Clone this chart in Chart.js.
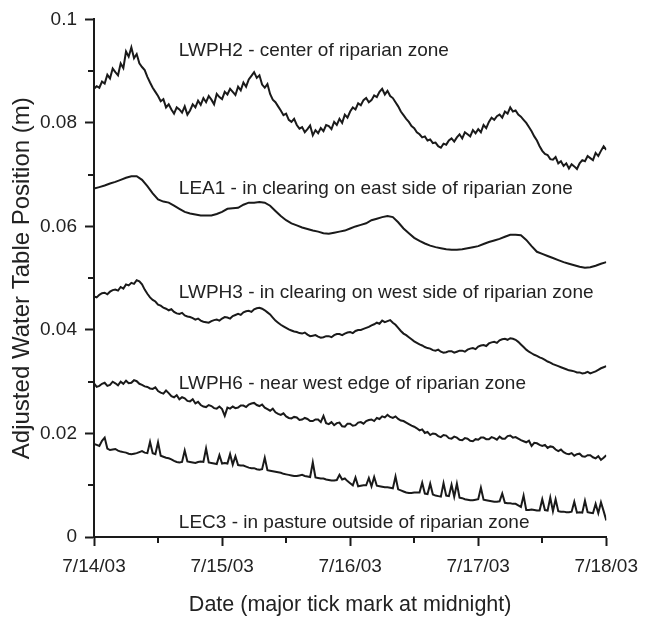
<!DOCTYPE html>
<html>
<head>
<meta charset="utf-8">
<script src="https://cdn.jsdelivr.net/npm/chart.js@4.4.1/dist/chart.umd.min.js"></script>
<style>
html,body{margin:0;padding:0;background:#fff;}
#wrap{width:647px;height:619px;position:relative;}
</style>
</head>
<body>
<div id="wrap"><canvas id="c"></canvas></div>
<script>
// Tick labels and series names
const dateLabels = ['7/14/03','7/15/03','7/16/03','7/17/03','7/18/03'];
const yTickLabels = ['0','0.02','0.04','0.06','0.08','0.1'];
const seriesNames = ['LWPH2','LEA1','LWPH3','LWPH6','LEC3'];
const seriesLabels = [
  'LWPH2 - center of riparian zone',
  'LEA1 - in clearing on east side of riparian zone',
  'LWPH3 - in clearing on west side of riparian zone',
  'LWPH6 - near west edge of riparian zone',
  'LEC3 - in pasture outside of riparian zone'
];

// Half-hourly readings (hours 0..96, step 0.5), metres
const lwph2 = [.0866,.0871,.0868,.0880,.0876,.0893,.0886,.0905,.0898,.0892,.0915,.0906,.0938,.0928,.0946,.0925,.0933,.0915,.0908,.0902,.0889,.0878,.0868,.0860,.0852,.0842,.0846,.0830,.0836,.0826,.0818,.0830,.0826,.0820,.0832,.0816,.0824,.0836,.0830,.0843,.0835,.0848,.0840,.0852,.0845,.0836,.0856,.0850,.0846,.0860,.0855,.0866,.0860,.0854,.0870,.0863,.0878,.0870,.0884,.0891,.0898,.0887,.0892,.0874,.0868,.0875,.0856,.0845,.0840,.0832,.0824,.0815,.0818,.0806,.0802,.0808,.0796,.0789,.0792,.0782,.0788,.0795,.0776,.0786,.0780,.0790,.0784,.0796,.0794,.0788,.0802,.0796,.0808,.0800,.0816,.0810,.0822,.0830,.0826,.0838,.0834,.0844,.0848,.0840,.0844,.0853,.0850,.0860,.0866,.0855,.0862,.0852,.0848,.0840,.0832,.0822,.0815,.0808,.0802,.0794,.0790,.0782,.0778,.0772,.0774,.0766,.0768,.0761,.0762,.0755,.0752,.0760,.0758,.0766,.0770,.0764,.0772,.0778,.0770,.0782,.0778,.0774,.0786,.0780,.0788,.0782,.0796,.0790,.0802,.0810,.0806,.0813,.0816,.0810,.0822,.0818,.0830,.0822,.0824,.0816,.0812,.0806,.0800,.0792,.0784,.0774,.0766,.0755,.0746,.0740,.0738,.0730,.0729,.0734,.0722,.0726,.0717,.0722,.0712,.0720,.0716,.0711,.0722,.0728,.0726,.0736,.0732,.0728,.0742,.0736,.0746,.0755,.0748];
const lwph3 = [.0465,.0463,.0468,.0471,.0472,.0469,.0474,.0477,.0478,.0476,.0483,.0480,.0488,.0486,.0491,.0489,.0496,.0494,.0488,.0478,.0470,.0463,.0458,.0455,.0449,.0447,.0443,.0441,.0438,.0440,.0435,.0432,.0431,.0433,.0428,.0426,.0425,.0423,.0420,.0422,.0418,.0416,.0415,.0414,.0417,.0419,.0420,.0418,.0422,.0425,.0424,.0422,.0427,.0429,.0431,.0429,.0434,.0436,.0437,.0435,.0440,.0442,.0443,.0441,.0438,.0434,.0430,.0424,.0418,.0414,.0410,.0407,.0404,.0401,.0399,.0397,.0396,.0394,.0393,.0395,.0391,.0388,.0389,.0390,.0387,.0385,.0386,.0388,.0388,.0386,.0390,.0392,.0392,.0390,.0393,.0395,.0396,.0394,.0398,.0400,.0400,.0402,.0404,.0406,.0409,.0411,.0414,.0412,.0418,.0415,.0417,.0419,.0414,.0410,.0404,.0398,.0393,.0390,.0386,.0382,.0378,.0375,.0372,.0370,.0367,.0365,.0364,.0361,.0360,.0362,.0358,.0356,.0357,.0359,.0359,.0356,.0358,.0360,.0360,.0358,.0362,.0364,.0365,.0363,.0368,.0370,.0371,.0369,.0374,.0376,.0377,.0375,.0380,.0382,.0383,.0381,.0384,.0383,.0381,.0377,.0372,.0367,.0362,.0358,.0355,.0352,.0350,.0347,.0345,.0342,.0339,.0337,.0334,.0332,.0330,.0328,.0326,.0324,.0322,.0321,.0320,.0318,.0318,.0316,.0317,.0319,.0316,.0318,.0320,.0323,.0326,.0328,.0330];
const lwph6 = [.0297,.0290,.0292,.0296,.0298,.0292,.0294,.0300,.0297,.0293,.0300,.0296,.0302,.0297,.0298,.0303,.0301,.0296,.0294,.0291,.0290,.0287,.0286,.0289,.0282,.0279,.0277,.0283,.0278,.0272,.0270,.0274,.0266,.0270,.0268,.0263,.0262,.0266,.0258,.0261,.0255,.0252,.0251,.0255,.0253,.0249,.0248,.0252,.0247,.0234,.0250,.0248,.0252,.0249,.0250,.0254,.0254,.0251,.0256,.0258,.0259,.0255,.0253,.0256,.0250,.0247,.0244,.0248,.0241,.0238,.0236,.0239,.0233,.0230,.0229,.0232,.0231,.0226,.0227,.0230,.0228,.0224,.0224,.0227,.0227,.0222,.0234,.0220,.0218,.0222,.0216,.0220,.0221,.0214,.0213,.0219,.0219,.0215,.0216,.0221,.0222,.0219,.0224,.0226,.0227,.0224,.0230,.0228,.0233,.0231,.0236,.0232,.0230,.0233,.0228,.0225,.0224,.0221,.0218,.0215,.0213,.0210,.0206,.0208,.0201,.0203,.0197,.0200,.0199,.0195,.0193,.0197,.0196,.0191,.0190,.0194,.0192,.0188,.0187,.0191,.0190,.0186,.0185,.0189,.0188,.0192,.0192,.0189,.0189,.0193,.0191,.0188,.0194,.0190,.0190,.0195,.0196,.0192,.0193,.0190,.0187,.0185,.0183,.0186,.0176,.0182,.0181,.0178,.0176,.0178,.0172,.0175,.0174,.0169,.0166,.0169,.0164,.0161,.0160,.0162,.0157,.0160,.0161,.0156,.0155,.0158,.0158,.0154,.0152,.0156,.0149,.0153,.0158];
const lec3 = [.0180,.0178,.0176,.0186,.0192,.0171,.0168,.0169,.0170,.0167,.0165,.0164,.0163,.0161,.0160,.0161,.0162,.0164,.0166,.0163,.0162,.0184,.0162,.0160,.0183,.0157,.0155,.0153,.0152,.0150,.0147,.0145,.0144,.0145,.0167,.0146,.0145,.0144,.0143,.0145,.0146,.0145,.0171,.0144,.0143,.0142,.0141,.0158,.0142,.0143,.0142,.0160,.0140,.0156,.0139,.0138,.0138,.0136,.0134,.0133,.0133,.0131,.0130,.0131,.0153,.0129,.0128,.0127,.0126,.0125,.0124,.0122,.0121,.0120,.0119,.0118,.0118,.0119,.0120,.0118,.0117,.0116,.0144,.0115,.0114,.0113,.0113,.0111,.0110,.0109,.0109,.0110,.0120,.0111,.0113,.0108,.0104,.0100,.0115,.0098,.0099,.0100,.0100,.0114,.0098,.0116,.0099,.0098,.0097,.0096,.0096,.0095,.0094,.0117,.0092,.0090,.0088,.0086,.0085,.0085,.0086,.0086,.0086,.0105,.0084,.0083,.0103,.0082,.0080,.0079,.0078,.0104,.0080,.0079,.0101,.0078,.0103,.0076,.0075,.0073,.0072,.0071,.0071,.0072,.0073,.0095,.0072,.0071,.0070,.0069,.0068,.0068,.0069,.0084,.0066,.0065,.0065,.0064,.0064,.0061,.0058,.0080,.0052,.0052,.0053,.0052,.0051,.0051,.0073,.0052,.0051,.0076,.0050,.0073,.0050,.0049,.0049,.0048,.0048,.0049,.0068,.0047,.0048,.0047,.0070,.0048,.0047,.0046,.0064,.0046,.0067,.0050,.0032];
// Hourly readings (hours 0..96), metres
const lea1 = [.0673,.0676,.0679,.0683,.0686,.0690,.0694,.0697,.0697,.0690,.0678,.0664,.0652,.0648,.0646,.0640,.0634,.0628,.0625,.0623,.0621,.0621,.0621,.0624,.0628,.0634,.0635,.0636,.0642,.0646,.0646,.0647,.0646,.0640,.0630,.0620,.0612,.0606,.0602,.0598,.0595,.0592,.0590,.0587,.0586,.0588,.0590,.0592,.0596,.0600,.0603,.0606,.0612,.0615,.0618,.0620,.0618,.0608,.0596,.0587,.0578,.0572,.0567,.0563,.0560,.0558,.0556,.0555,.0555,.0556,.0558,.0560,.0562,.0566,.0570,.0573,.0576,.0580,.0584,.0584,.0583,.0574,.0562,.0551,.0547,.0543,.0539,.0535,.0531,.0528,.0525,.0522,.0520,.0521,.0524,.0528,.0531];

const seriesValues = [lwph2, lea1, lwph3, lwph6, lec3];
const seriesStepHours = [0.5, 1, 0.5, 0.5, 0.5];

// label anchor positions (data coordinates)
const labelHour = 15.9;
const labelLevels = [0.0939, 0.0673, 0.0472, 0.0297, 0.0028];

const FONT = '"Liberation Sans", Arial, Helvetica, sans-serif';
const INK = '#1a1a1a';
const TEXT = '#222';

const datasets = seriesValues.map((vals, k) => ({
  label: seriesNames[k],
  data: vals.map((v, i) => ({x: i * seriesStepHours[k], y: v})),
  borderColor: INK,
  borderWidth: 2,
  pointRadius: 0,
  fill: false,
  tension: 0
}));

const minorTicks = {
  id: 'minorTicks',
  afterDraw(chart) {
    const {ctx, scales: {x, y}} = chart;
    ctx.save();
    ctx.strokeStyle = INK;
    ctx.lineWidth = 2;
    x.ticks.forEach(t => {
      if (t.value % 24 !== 0) {
        const px = Math.round(x.getPixelForValue(t.value));
        ctx.beginPath(); ctx.moveTo(px, x.top); ctx.lineTo(px, x.top + 6); ctx.stroke();
      }
    });
    y.ticks.forEach((t, i) => {
      if (i % 2 === 1) {
        const py = Math.round(y.getPixelForValue(t.value));
        ctx.beginPath(); ctx.moveTo(y.right - 6, py); ctx.lineTo(y.right, py); ctx.stroke();
      }
    });
    ctx.restore();
  }
};

const seriesText = {
  id: 'seriesText',
  afterDatasetsDraw(chart) {
    const {ctx, scales: {x, y}} = chart;
    ctx.save();
    ctx.fillStyle = TEXT;
    ctx.font = '19px ' + FONT;
    ctx.textAlign = 'left';
    ctx.textBaseline = 'middle';
    seriesLabels.forEach((s, k) => {
      ctx.fillText(s, x.getPixelForValue(labelHour), y.getPixelForValue(labelLevels[k]));
    });
    ctx.restore();
  }
};

new Chart(document.getElementById('c'), {
  type: 'line',
  data: {datasets},
  options: {
    responsive: true,
    maintainAspectRatio: false,
    animation: false,
    events: [],
    layout: {padding: {left: 0, right: 33, top: 18, bottom: 0}},
    plugins: {legend: {display: false}, tooltip: {enabled: false}},
    scales: {
      x: {
        type: 'linear', min: 0, max: 96,
        afterBuildTicks: s => { s.ticks = [0,12,24,36,48,60,72,84,96].map(v => ({value: v})); },
        afterFit: s => { s.height = 82; },
        ticks: {
          callback: v => (v % 24 === 0 ? dateLabels[v / 24] : ''),
          font: {family: FONT, size: 19}, color: TEXT, padding: 9,
          maxRotation: 0, autoSkip: false
        },
        grid: {
          display: true, drawOnChartArea: false, drawTicks: true, tickLength: 9, tickWidth: 2,
          tickColor: c => (c.tick && c.tick.value % 24 === 0 ? INK : 'rgba(0,0,0,0)')
        },
        border: {display: true, color: INK, width: 2},
        title: {display: true, text: 'Date (major tick mark at midnight)', font: {family: FONT, size: 21.5}, color: TEXT, padding: {top: 0, bottom: 1}}
      },
      y: {
        type: 'linear', min: 0, max: 0.1,
        afterBuildTicks: s => { s.ticks = [0,0.01,0.02,0.03,0.04,0.05,0.06,0.07,0.08,0.09,0.1].map(v => ({value: v})); },
        afterFit: s => { s.width = 94; },
        ticks: {
          callback: (v, i) => (i % 2 === 0 ? yTickLabels[i / 2] : ''),
          font: {family: FONT, size: 19}, color: TEXT, padding: 8, autoSkip: false
        },
        grid: {
          display: true, drawOnChartArea: false, drawTicks: true, tickLength: 9, tickWidth: 2,
          tickColor: c => (c.index % 2 === 0 ? INK : 'rgba(0,0,0,0)')
        },
        border: {display: true, color: INK, width: 2},
        title: {display: true, text: 'Adjusted Water Table Position (m)', font: {family: FONT, size: 24}, color: TEXT, padding: {top: 8, bottom: 0}}
      }
    }
  },
  plugins: [minorTicks, seriesText]
});
</script>
</body>
</html>
